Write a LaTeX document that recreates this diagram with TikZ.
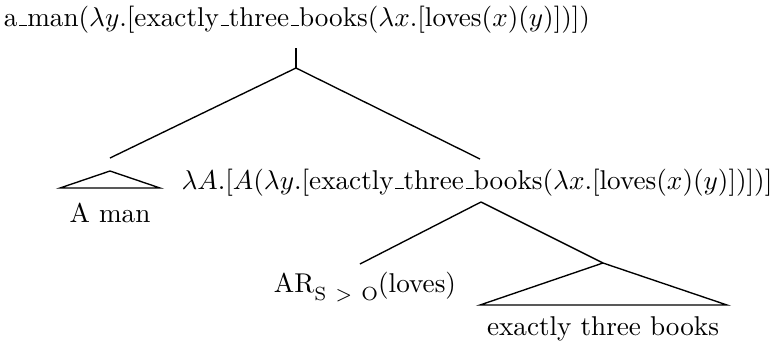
\documentclass[tikz,border=0pt]{standalone}
\newcommand\usc{\leavevmode\kern.06em\vbox{\hrule width.3em}}
\begin{document}
\begin{tikzpicture}[x=0.368pt,y=-0.368pt,
  lbl/.style={inner sep=0pt,anchor=base},
  edge/.style={draw=black,line width=0.5pt}]
\useasboundingbox (0,0) rectangle (771,347);
\node[lbl] (root) at (297,26) {a\usc man($\lambda y$.[exactly\usc three\usc books($\lambda x$.[loves($x$)($y$)])])};
\node[lbl] (lamA) at (477,189) {$\lambda A$.[$A$($\lambda y$.[exactly\usc three\usc books($\lambda x$.[loves($x$)($y$)])])]};
\node[lbl] (aman) at (110,222) {A man};
\node[lbl] (ar) at (365,292) {AR\raisebox{-3pt}{$\scriptstyle\mathrm{S}\ >\ \mathrm{O}$}(loves)};
\node[lbl] (etb) at (603,335) {exactly three books};
\coordinate (rtop) at (296,48);
\coordinate (rfork) at (296,68);
\coordinate (lend) at (110,158);
\coordinate (rend) at (480,159);
\coordinate (t1a) at (110,171);
\coordinate (t1l) at (60,188);
\coordinate (t1r) at (160,188);
\coordinate (lfork) at (481,202);
\coordinate (arend) at (360,264);
\coordinate (t2a) at (603,263);
\coordinate (t2l) at (480,305);
\coordinate (t2r) at (727,305);
\draw[edge] (rtop) -- (rfork);
\draw[edge] (rfork) -- (lend);
\draw[edge] (rfork) -- (rend);
\draw[edge] (t1a) -- (t1l) -- (t1r) -- cycle;
\draw[edge] (lfork) -- (arend);
\draw[edge] (lfork) -- (t2a);
\draw[edge] (t2a) -- (t2l) -- (t2r) -- cycle;
\end{tikzpicture}
\end{document}
